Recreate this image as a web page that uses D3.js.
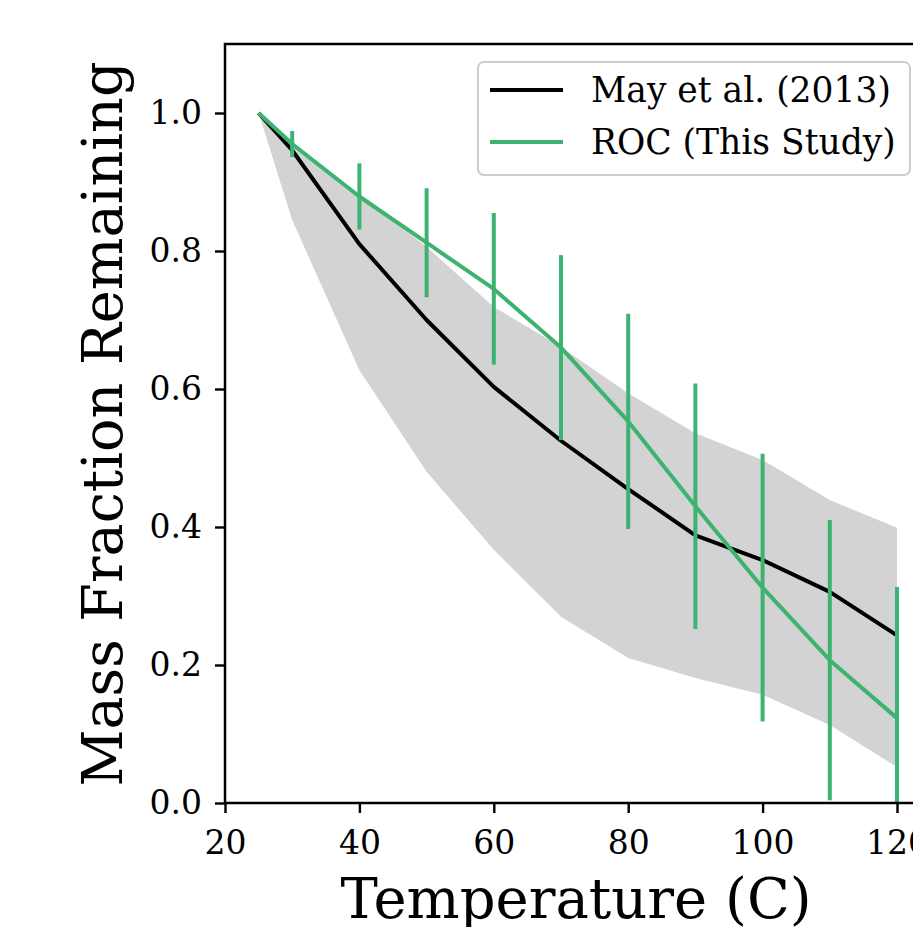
<!DOCTYPE html>
<html lang="en">
<head>
<meta charset="UTF-8">
<title>Mass Fraction Remaining vs Temperature</title>
<script src="https://d3js.org/d3.v7.min.js"></script>
<style>
    body { margin: 0; background: #fff; }
    text { font-family: "DejaVu Serif", serif; fill: #000; }
</style>
</head>
<body>
<script>
    // temperatures (C)
    var temps = [25, 30, 40, 50, 60, 70, 80, 90, 100, 110, 120];
    // May et al. (2013) central curve and its shaded range
    var mayMid = [1.0, 0.946, 0.81, 0.70, 0.603, 0.525, 0.455, 0.388, 0.352, 0.306, 0.243];
    var mayLow = [1.0, 0.845, 0.627, 0.48, 0.367, 0.27, 0.21, 0.181, 0.157, 0.113, 0.052];
    var mayHigh = [1.0, 0.95, 0.88, 0.806, 0.719, 0.661, 0.594, 0.536, 0.497, 0.439, 0.399];
    // ROC (this study), with error bars from 30 C on
    var rocTemps = [25, 30, 40, 50, 60, 70, 80, 90, 100, 110, 120];
    var rocMid = [1.0, 0.955, 0.879, 0.812, 0.745, 0.66, 0.553, 0.43, 0.312, 0.207, 0.123];
    var rocErr = [0, 0.019, 0.048, 0.079, 0.11, 0.134, 0.156, 0.178, 0.194, 0.203, 0.19];
    var xTicks = [20, 40, 60, 80, 100, 120];
    var yTicks = [0.0, 0.2, 0.4, 0.6, 0.8, 1.0];

    var width = 913, height = 927;
    var mLeft = 225, mTop = 44, mBottom = 803;
    var green = "#3cb371";
    var lw = 4;

    var svg = d3.select("body").append("svg")
        .attr("width", width)
        .attr("height", height);

    var x = d3.scaleLinear().domain([20, 125]).range([mLeft, mLeft + 105 * 6.72]);
    var y = d3.scaleLinear().domain([0, 1.1]).range([mBottom, mTop]);

    svg.append("defs").append("clipPath").attr("id", "plot")
        .append("rect")
        .attr("x", mLeft).attr("y", mTop)
        .attr("width", x(125) - mLeft).attr("height", mBottom - mTop);

    var plot = svg.append("g").attr("clip-path", "url(#plot)");

    // shaded range
    var area = d3.area()
        .x(function(d, i) { return x(temps[i]); })
        .y0(function(d, i) { return y(mayLow[i]); })
        .y1(function(d, i) { return y(mayHigh[i]); });
    plot.append("path")
        .attr("d", area(temps))
        .attr("fill", "#d3d3d3");

    // May et al. line
    var line = d3.line()
        .x(function(d) { return x(d[0]); })
        .y(function(d) { return y(d[1]); });
    plot.append("path")
        .attr("d", line(d3.zip(temps, mayMid)))
        .attr("fill", "none")
        .attr("stroke", "#000")
        .attr("stroke-width", lw)
        .attr("stroke-linejoin", "round");

    // ROC line + error bars
    plot.append("path")
        .attr("d", line(d3.zip(rocTemps, rocMid)))
        .attr("fill", "none")
        .attr("stroke", green)
        .attr("stroke-width", lw)
        .attr("stroke-linejoin", "round");
    plot.selectAll(".err")
        .data(d3.range(rocTemps.length).filter(function(i) { return rocErr[i] > 0; }))
        .enter().append("line")
        .attr("class", "err")
        .attr("x1", function(i) { return x(rocTemps[i]); })
        .attr("x2", function(i) { return x(rocTemps[i]); })
        .attr("y1", function(i) { return y(rocMid[i] + rocErr[i]); })
        .attr("y2", function(i) { return y(rocMid[i] - rocErr[i]); })
        .attr("stroke", green)
        .attr("stroke-width", lw);

    // axes
    var xAxis = svg.append("g")
        .attr("transform", "translate(0," + mBottom + ")")
        .call(d3.axisBottom(x).tickValues(xTicks).tickSize(10).tickPadding(18).tickFormat(d3.format("d")));
    var yAxis = svg.append("g")
        .attr("transform", "translate(" + mLeft + ",0)")
        .call(d3.axisLeft(y).tickValues(yTicks).tickSize(10).tickPadding(13).tickFormat(d3.format(".1f")));
    [xAxis, yAxis].forEach(function(a) {
        a.select(".domain").remove();
        a.selectAll(".tick line").attr("stroke", "#000").attr("stroke-width", 2.4);
        a.selectAll(".tick text").attr("font-family", "DejaVu Serif").attr("font-size", 33).attr("fill", "#000");
    });

    // frame (left, top, bottom spines)
    svg.append("path")
        .attr("d", "M" + (width + 5) + "," + mTop + "H" + mLeft + "V" + mBottom + "H" + (width + 5))
        .attr("fill", "none")
        .attr("stroke", "#000")
        .attr("stroke-width", 2.5);

    // axis labels
    svg.append("text")
        .attr("x", 576)
        .attr("y", 918)
        .attr("text-anchor", "middle")
        .attr("font-size", 56)
        .text("Temperature (C)");
    svg.append("text")
        .attr("transform", "translate(122,424) rotate(-90)")
        .attr("text-anchor", "middle")
        .attr("font-size", 56)
        .attr("textLength", 725)
        .attr("lengthAdjust", "spacingAndGlyphs")
        .text("Mass Fraction Remaining");

    // legend
    var leg = svg.append("g").attr("transform", "translate(478,62)");
    leg.append("rect")
        .attr("width", 432).attr("height", 113)
        .attr("rx", 6)
        .attr("fill", "#fff").attr("fill-opacity", 0.8)
        .attr("stroke", "#cccccc").attr("stroke-width", 2);
    var items = [["May et al. (2013)", "#000"], ["ROC (This Study)", green]];
    items.forEach(function(it, i) {
        var cy = 28 + i * 52;
        leg.append("line")
            .attr("x1", 12).attr("x2", 85)
            .attr("y1", cy).attr("y2", cy)
            .attr("stroke", it[1]).attr("stroke-width", lw);
        leg.append("text")
            .attr("x", 113).attr("y", cy + 12)
            .attr("font-size", 34.5)
            .text(it[0]);
    });
</script>
</body>
</html>
